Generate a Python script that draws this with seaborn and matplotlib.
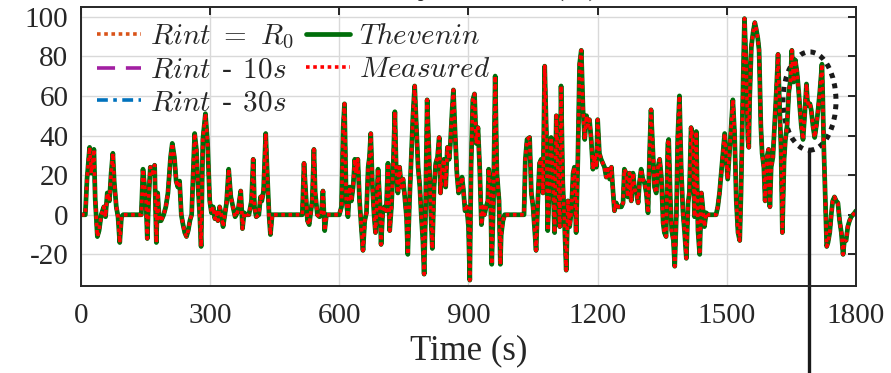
import numpy as np
import pandas as pd
import seaborn as sns
import matplotlib
matplotlib.use('Agg')
from matplotlib import pyplot as plt
from matplotlib.patches import Ellipse

# time (s) and battery current (breakpoints)
time_s = [0, 10, 14, 20, 24, 30, 33, 38, 42, 47, 53, 57, 61, 66, 70, 74, 77, 82, 86, 90, 94, 98,
          140, 144, 148, 151, 154, 157, 161, 166, 171, 175, 178, 182, 186, 192, 197, 202, 208, 212,
          217, 221, 225, 229, 233, 237, 241, 245, 249, 253, 257, 260, 264, 268, 272, 276, 279, 283,
          289, 294, 299,
          303, 307, 311, 314, 318, 322, 326, 330, 334, 338, 343, 348, 351, 355, 358, 363, 366, 371,
          373, 375, 379, 384, 390, 396, 400, 403, 407, 413, 417, 420, 424, 429, 433, 437, 440, 444,
          514, 518, 522, 526, 530, 533, 537, 541, 544, 549, 554, 558, 562, 566, 570, 600,
          605, 609, 612, 616, 620, 624, 628, 632, 636, 639, 643, 647, 651, 655, 659, 663, 667, 670,
          673, 677, 681, 684, 687, 690, 694, 697, 701, 705, 709, 713, 717, 721, 725, 729, 732, 736,
          740, 744, 748, 752, 756, 759, 763, 767, 771, 775, 779, 783, 787, 790, 794, 797, 800, 804,
          808, 812, 816, 820, 824, 828, 832, 835, 839, 843, 847, 851, 855, 858, 862, 865, 869, 873,
          877, 881, 885, 888, 892, 896, 900,
          903, 906, 910, 914, 918, 922, 926, 930, 934, 937, 941, 945, 947, 951, 954, 958, 962, 966,
          971, 974, 976, 980, 984, 1029, 1032, 1036, 1042, 1046, 1050, 1054, 1057, 1061, 1065, 1069,
          1073, 1077, 1081, 1084, 1088, 1092, 1096, 1100, 1104, 1108, 1112, 1115, 1119, 1123, 1127,
          1131, 1135, 1139, 1143, 1146, 1150, 1154, 1158, 1162, 1166, 1170, 1174, 1177, 1181, 1185,
          1189, 1193, 1197, 1200,
          1204, 1208, 1212, 1216, 1220, 1224, 1228, 1232, 1235, 1239, 1243, 1247, 1251, 1255, 1259,
          1262, 1266, 1270, 1274, 1278, 1282, 1286, 1290, 1294, 1297, 1301, 1305, 1309, 1313, 1317,
          1321, 1324, 1328, 1332, 1336, 1340, 1344, 1348, 1352, 1355, 1359, 1363, 1365, 1369, 1372,
          1376, 1379, 1383, 1386, 1390, 1394, 1398, 1402, 1406, 1410, 1413, 1417, 1421, 1425, 1429,
          1433, 1437, 1441, 1444, 1448, 1452, 1456, 1475, 1479, 1483, 1487, 1491, 1495, 1499, 1502,
          1506, 1510, 1514, 1518, 1522, 1526, 1530, 1533, 1537, 1541, 1545, 1549, 1551, 1553, 1557,
          1561, 1565, 1568, 1572, 1575, 1579, 1582, 1586, 1589, 1593, 1597, 1600, 1603, 1607, 1611,
          1615, 1619, 1622, 1626, 1629, 1633, 1636, 1640, 1644, 1648, 1651, 1655, 1659, 1663, 1667,
          1670, 1673, 1677, 1681, 1685, 1687, 1690, 1693, 1696, 1700, 1704, 1708, 1712, 1716, 1721,
          1723, 1725, 1729, 1732, 1735, 1739, 1743, 1746, 1750, 1754, 1758, 1762, 1766, 1770, 1773,
          1777, 1781, 1785, 1789, 1793, 1797, 1800]

current_a = [0, 0, 18, 34, 21, 33, 8, -11, -8, 0, 4, -1, 11, 7, 21, 31, 17, 4, -1, -14, -1, 0,
             0, 23, 14, 7, -12, 7, 24, 21, 25, -14, 11, -3, -3, 0, 4, 11, 29, 36,
             29, 17, 14, 17, 0, -5, -9, -11, -8, -3, 0, 17, 41, 33, 14, -1, -16, 38,
             51, 36, 7,
             1, 4, -2, 1, -3, 4, 0, -6, 0, 6, 23, 9, 6, 2, -1, 1, 4, 12,
             4, -7, 1, 0, 0, 7, 28, 4, -1, 0, 9, 7, 12, 41, 19, -1, -10, 0,
             0, 26, 11, -3, -5, 0, 7, 33, 11, 0, -1, 0, 12, -8, 0, 0,
             4, 44, 56, 7, -1, 14, 7, 14, 28, 21, 28, 7, -6, -18, -3, 1, 24, 29,
             41, 14, -1, -9, 6, 23, 7, -15, 2, 4, 2, 26, -8, 4, 24, 52, 24, 11,
             24, 14, 18, 9, -1, -20, 7, 28, 50, 65, 44, 24, 14, 1, -13, -30, -1, 58,
             33, 4, -17, 14, 26, 29, 39, 11, 24, 28, 14, 34, 28, 36, 53, 63, 41, 21,
             11, 14, 19, 13, 2, 4, -6,
             -33, 24, 58, 61, 36, 44, 24, -5, 4, 0, 4, 7, 23, 14, -25, 7, 70, 21,
             7, -25, -10, -3, 0, 0, 28, 38, 39, 11, 4, -9, -18, 7, 26, 28,
             11, 75, 41, -8, 14, 39, 19, -9, 50, 21, -6, 65, 16, -4, -28,
             7, -6, 2, 21, 24, -9, 28, 76, 83, 53, 38, 50, 45, 48, 38,
             23, 30, 24, 48,
             31, 28, 26, 24, 19, 23, 18, 24, 14, 2, 6, 4, 4, 4, 6,
             23, 21, 9, 21, 7, 21, 13, 11, 6, 16, 23, 18, 16, 11, 1,
             34, 53, 34, 14, 11, 24, 28, 19, -4, -9, -11, 36, 38, 7, -8,
             -13, -26, 1, 39, 60, 24, 2, -9, -22, 6, 11, 44, 38, -1, 42,
             -8, -20, 11, 4, -6, 1, 0, 0, 4, 11, 21, 31, 41, 28, 18,
             31, 44, 58, 41, 7, -9, -13, 11, 58, 99, 75, 38, 34, 58, 85,
             92, 97, 94, 89, 83, 45, 31, 24, 7, 29, 33, 4, 24, 29, 45,
             62, 81, 58, 33, -9, 28, 38, 45, 62, 68, 83, 67, 78, 72, 62,
             53, 45, 38, 51, 66, 58, 55, 56, 53, 45, 39, 45, 53, 62, 76,
             58, 36, 7, -16, -14, -9, 1, 7, 9, 7, 6, -3, -9, -20, -13,
             -13, -6, -3, -1, 0, 1, 2]

x_ticks = [0, 300, 600, 900, 1200, 1500, 1800]
y_ticks = [-20, 0, 20, 40, 60, 80, 100]

series_labels = [r'$Rint\ =\ R_0$', r'$Rint\,$ - $\,\mathit{10s}$', r'$Rint\,$ - $\,\mathit{30s}$',
                 r'$Thevenin$', r'$Measured$']
series_colors = ['#D95319', '#A21FA2', '#0072BD', '#006E0A', '#FF0000']

df = pd.DataFrame({'t': time_s, 'i': current_a})

sns.set_theme(style='whitegrid')
plt.rcParams['font.family'] = ['Liberation Serif', 'DejaVu Serif']
plt.rcParams['mathtext.fontset'] = 'cm'
plt.rcParams['axes.unicode_minus'] = False

fig = plt.figure(figsize=(8.91, 3.73), dpi=100)
ax = fig.add_axes([0.0909, 0.233, 0.8698, 0.749])

styles = [dict(lw=2.6, ls=(0, (1, 1))),
          dict(lw=2.6, ls=(0, (5, 3))),
          dict(lw=2.6, ls=(0, (3, 1.5, 1, 1.5))),
          dict(lw=3.4, ls='-'),
          dict(lw=2.6, ls=(0, (1, 1)))]
for lab, col, st in zip(series_labels, series_colors, styles):
    sns.lineplot(data=df, x='t', y='i', ax=ax, color=col, label=lab,
                 linewidth=st['lw'], linestyle=st['ls'], sort=False)

ax.set_xlim(0, 1800)
ax.set_ylim(-36, 105)
ax.set_xticks(x_ticks)
ax.set_yticks(y_ticks)
ax.set_xlabel('Time (s)', fontsize=25, labelpad=4)
ax.set_ylabel('')
ax.tick_params(direction='in', top=True, right=True, length=6, width=1.4,
               labelsize=21, colors='#262626', pad=9)
ax.tick_params(axis='x', pad=12)
ax.grid(True, color='#d9d9d9', lw=1.0)
for sp in ax.spines.values():
    sp.set_color('#262626')
    sp.set_linewidth(1.4)

ax.legend(ncol=2, loc='upper left', frameon=False, fontsize=21,
          handlelength=1.5, handletextpad=0.3, columnspacing=0.45,
          labelspacing=0.22, borderaxespad=0.35, borderpad=0.2)

# highlight ellipse and the pointer line
ax.add_patch(Ellipse((1692, 57.4), 123, 49.6, fill=False, color='k',
                     lw=3.6, ls=(0, (1, 1.1))))
ax.plot([1690, 1690], [32, -80], color='k', lw=2.4, clip_on=False)

fig.text(0.525, 1.018, 'Battery Current (A)', ha='center', va='baseline',
         fontsize=24, color='#262626')

fig.savefig('out.png', dpi=100)
